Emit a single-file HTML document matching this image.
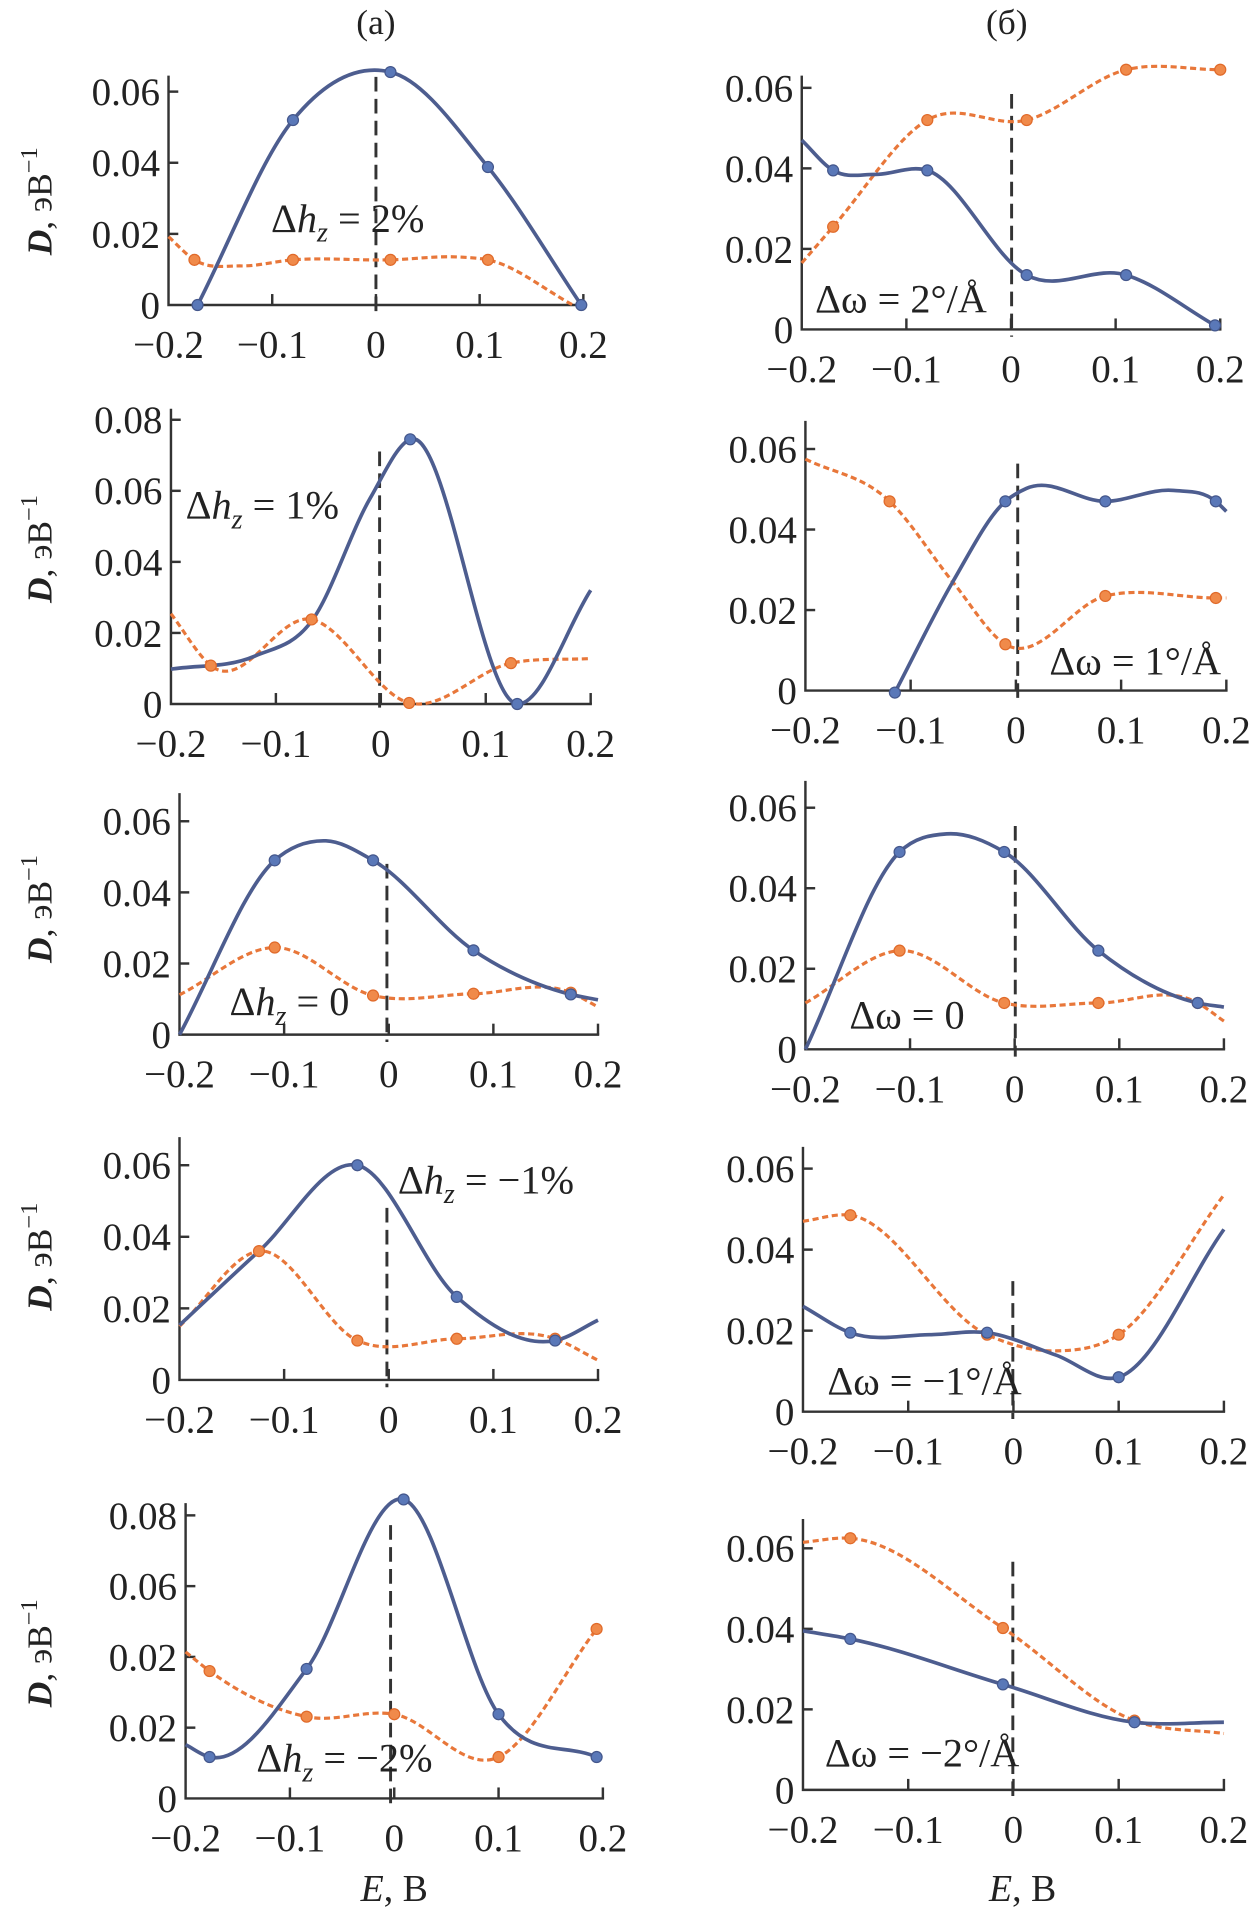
<!DOCTYPE html>
<html><head><meta charset="utf-8"><style>
html,body{margin:0;padding:0;background:#fff}
svg{display:block}
text{font-family:"Liberation Serif",serif;fill:#222}
</style></head><body>
<svg id="fig" width="1257" height="1918" viewBox="0 0 1030 1572" xmlns="http://www.w3.org/2000/svg">
<text x="308" y="28" font-size="29" text-anchor="middle">(a)</text>
<text x="825" y="28" font-size="29" text-anchor="middle">(б)</text>
</svg>
<script>
// ---- data ----
const yTicks6 = [0, 0.02, 0.04, 0.06];
const yTicks8 = [0, 0.02, 0.04, 0.06, 0.08];
const yLabels6 = ["0", "0.02", "0.04", "0.06"];
const yLabels8 = ["0", "0.02", "0.04", "0.06", "0.08"];
const yLabelsA5 = ["0", "0.02", "0.02", "0.06", "0.08"];
const xTicks = [-0.2, -0.1, 0, 0.1, 0.2];
const xLabels = ["\u22120.2", "\u22120.1", "0", "0.1", "0.2"];

const a1BlueX = [-0.172, -0.08, 0.014, 0.108, 0.198];
const a1BlueY = [0, 0.052, 0.0655, 0.0388, 0];
const a1BlueM = [-0.172, -0.08, 0.014, 0.108, 0.198];
const a1BlueMY = [0, 0.052, 0.0655, 0.0388, 0];
const a1OrX = [-0.2, -0.175, -0.13, -0.08, 0.014, 0.08, 0.108, 0.19];
const a1OrY = [0.0192, 0.0127, 0.011, 0.0127, 0.0127, 0.0135, 0.0127, 0];
const a1OrM = [-0.175, -0.08, 0.014, 0.108];
const a1OrMY = [0.0127, 0.0127, 0.0127, 0.0127];

const a2BlueX = [-0.2, -0.12, -0.066, -0.01, 0.028, 0.13, 0.2];
const a2BlueY = [0.0098, 0.0135, 0.0233, 0.058, 0.0745, 0, 0.032];
const a2BlueM = [0.028, 0.13];
const a2BlueMY = [0.0745, 0];
const a2OrX = [-0.2, -0.162, -0.066, 0.027, 0.124, 0.2];
const a2OrY = [0.0254, 0.0108, 0.0238, 0.0003, 0.0115, 0.0128];
const a2OrM = [-0.162, -0.066, 0.027, 0.124];
const a2OrMY = [0.0108, 0.0238, 0.0003, 0.0115];

const a3BlueX = [-0.2, -0.109, -0.06, -0.015, 0.081, 0.174, 0.2];
const a3BlueY = [0, 0.049, 0.0545, 0.049, 0.0237, 0.0113, 0.0098];
const a3BlueM = [-0.109, -0.015, 0.081, 0.174];
const a3BlueMY = [0.049, 0.049, 0.0237, 0.0113];
const a3OrX = [-0.2, -0.109, -0.015, 0.081, 0.174, 0.2];
const a3OrY = [0.0112, 0.0245, 0.011, 0.0115, 0.0118, 0.0078];
const a3OrM = [-0.109, -0.015, 0.081, 0.174];
const a3OrMY = [0.0245, 0.011, 0.0115, 0.0118];

const a4BlueX = [-0.2, -0.124, -0.03, 0.065, 0.159, 0.2];
const a4BlueY = [0.0153, 0.036, 0.06, 0.0232, 0.011, 0.0167];
const a4BlueM = [-0.03, 0.065, 0.159];
const a4BlueMY = [0.06, 0.0232, 0.011];
const a4OrX = [-0.2, -0.124, -0.03, 0.065, 0.159, 0.2];
const a4OrY = [0.015, 0.036, 0.011, 0.0115, 0.0115, 0.0055];
const a4OrM = [-0.124, -0.03, 0.065, 0.159];
const a4OrMY = [0.036, 0.011, 0.0115, 0.0115];

const a5BlueX = [-0.2, -0.177, -0.084, 0.009, 0.1, 0.194];
const a5BlueY = [0.0152, 0.0117, 0.0366, 0.0845, 0.0238, 0.0117];
const a5BlueM = [-0.177, -0.084, 0.009, 0.1, 0.194];
const a5BlueMY = [0.0117, 0.0366, 0.0845, 0.0238, 0.0117];
const a5OrX = [-0.2, -0.177, -0.084, 0.0, 0.1, 0.194];
const a5OrY = [0.0414, 0.036, 0.0231, 0.0238, 0.0117, 0.0479];
const a5OrM = [-0.177, -0.084, 0.0, 0.1, 0.194];
const a5OrMY = [0.036, 0.0231, 0.0238, 0.0117, 0.0479];

const b1BlueX = [-0.2, -0.17, -0.13, -0.08, 0.015, 0.11, 0.195];
const b1BlueY = [0.047, 0.0395, 0.0385, 0.0395, 0.0135, 0.0135, 0.001];
const b1BlueM = [-0.17, -0.08, 0.015, 0.11, 0.195];
const b1BlueMY = [0.0395, 0.0395, 0.0135, 0.0135, 0.001];
const b1OrX = [-0.2, -0.17, -0.08, 0.015, 0.11, 0.2];
const b1OrY = [0.0165, 0.0255, 0.052, 0.052, 0.0645, 0.0645];
const b1OrM = [-0.17, -0.08, 0.015, 0.11, 0.2];
const b1OrMY = [0.0255, 0.052, 0.052, 0.0645, 0.0645];

const b2BlueX = [-0.115, -0.06, -0.01, 0.01, 0.085, 0.15, 0.19, 0.2];
const b2BlueY = [-0.0005, 0.027, 0.047, 0.0502, 0.047, 0.0497, 0.047, 0.0445];
const b2BlueM = [-0.115, -0.01, 0.085, 0.19];
const b2BlueMY = [-0.0005, 0.047, 0.047, 0.047];
const b2OrX = [-0.2, -0.12, -0.06, -0.01, 0.085, 0.19, 0.2];
const b2OrY = [0.0575, 0.047, 0.027, 0.0115, 0.0235, 0.023, 0.023];
const b2OrM = [-0.12, -0.01, 0.085, 0.19];
const b2OrMY = [0.047, 0.0115, 0.0235, 0.023];

const b3BlueX = [-0.2, -0.11, -0.065, -0.01, 0.08, 0.175, 0.2];
const b3BlueY = [0, 0.049, 0.0535, 0.049, 0.0245, 0.0115, 0.0105];
const b3BlueM = [-0.11, -0.01, 0.08, 0.175];
const b3BlueMY = [0.049, 0.049, 0.0245, 0.0115];
const b3OrX = [-0.2, -0.11, -0.01, 0.08, 0.175, 0.2];
const b3OrY = [0.0115, 0.0245, 0.0115, 0.0115, 0.0115, 0.007];
const b3OrM = [-0.11, -0.01, 0.08, 0.175];
const b3OrMY = [0.0245, 0.0115, 0.0115, 0.0115];

const b4BlueX = [-0.2, -0.155, -0.08, -0.025, 0.04, 0.1, 0.2];
const b4BlueY = [0.026, 0.0195, 0.019, 0.0195, 0.014, 0.0085, 0.045];
const b4BlueM = [-0.155, -0.025, 0.1];
const b4BlueMY = [0.0195, 0.0195, 0.0085];
const b4OrX = [-0.2, -0.155, -0.025, 0.04, 0.1, 0.2];
const b4OrY = [0.047, 0.0485, 0.019, 0.015, 0.019, 0.0535];
const b4OrM = [-0.155, -0.025, 0.1];
const b4OrMY = [0.0485, 0.019, 0.019];

const b5BlueX = [-0.2, -0.155, -0.01, 0.115, 0.2];
const b5BlueY = [0.0395, 0.0375, 0.0262, 0.0168, 0.0168];
const b5BlueM = [-0.155, -0.01, 0.115];
const b5BlueMY = [0.0375, 0.0262, 0.0168];
const b5OrX = [-0.2, -0.155, -0.01, 0.115, 0.2];
const b5OrY = [0.0615, 0.0625, 0.0402, 0.0172, 0.014];
const b5OrM = [-0.155, -0.01, 0.115];
const b5OrMY = [0.0625, 0.0402, 0.0172];

// ---- drawing ----
const NS = "http://www.w3.org/2000/svg";
const svg = document.getElementById("fig");
function mk(tag, attrs, parent) {
  const e = document.createElementNS(NS, tag);
  for (const k in attrs) e.setAttribute(k, attrs[k]);
  (parent || svg).appendChild(e);
  return e;
}
// function-style cubic Hermite spline (slopes by finite differences in x)
function spline(pts) {
  const n = pts.length;
  const m = pts.map((p, i) => {
    if (i === 0) return (pts[1][1] - p[1]) / (pts[1][0] - p[0]);
    if (i === n - 1) return (p[1] - pts[i - 1][1]) / (p[0] - pts[i - 1][0]);
    const s0 = (p[1] - pts[i - 1][1]) / (p[0] - pts[i - 1][0]);
    const s1 = (pts[i + 1][1] - p[1]) / (pts[i + 1][0] - p[0]);
    const h0 = p[0] - pts[i - 1][0], h1 = pts[i + 1][0] - p[0];
    return (s0 * h1 + s1 * h0) / (h0 + h1);
  });
  let d = "M" + pts[0][0] + "," + pts[0][1];
  for (let i = 0; i < n - 1; i++) {
    const p1 = pts[i], p2 = pts[i + 1], h = (p2[0] - p1[0]) / 3;
    d += " C" + (p1[0] + h) + "," + (p1[1] + m[i] * h) + " " + (p2[0] - h) + "," + (p2[1] - m[i + 1] * h) + " " + p2[0] + "," + p2[1];
  }
  return d;
}
function panel(id, g, yt, yl, bx, by, bmx, bmy, ox, oy, omx, omy, label) {
  const grp = mk("g", {});
  
  
  const X = v => g.xL + (v + 0.2) / 0.4 * (g.xR - g.xL);
  const Y = v => g.y0 - v * g.k;
  const z = mk("line", {x1: g.zx, x2: g.zx, y1: g.zTop, y2: g.y0 + 6, stroke: "#333", "stroke-width": 2.4, "stroke-dasharray": "12,6"}, grp);
  
  
  const ax = mk("path", {d: "M" + g.xL + "," + g.top + " V" + g.y0 + " H" + (g.xR + 1), fill: "none", stroke: "#333", "stroke-width": 2}, grp);
  
  
  yt.forEach((v, i) => {
    if (v > 0) mk("line", {x1: g.xL, x2: g.xL + 8, y1: Y(v), y2: Y(v), stroke: "#333", "stroke-width": 2}, grp);
    const t = mk("text", {x: g.xL - 7, y: Y(v) + 11, "font-size": 32, "text-anchor": "end", transform: "", "textLength": "", }, grp);
    t.removeAttribute("transform"); t.removeAttribute("textLength");
    t.textContent = yl[i];
    
    
  });
  xTicks.forEach((v, i) => {
    if (v > -0.2) mk("line", {x1: X(v), x2: X(v), y1: g.y0, y2: g.y0 - 9, stroke: "#333", "stroke-width": 2}, grp);
    const t = mk("text", {x: X(v), y: g.y0 + 43, "font-size": 32, "text-anchor": "middle"}, grp);
    t.textContent = xLabels[i];
    
    
  });
  const op = mk("path", {d: spline(ox.map((v, i) => [X(v), Y(oy[i])])), fill: "none", stroke: "#e8773a", "stroke-width": 2.6, "stroke-dasharray": "5,3"}, grp);
  
  
  const bp = mk("path", {d: spline(bx.map((v, i) => [X(v), Y(by[i])])), fill: "none", stroke: "#4d5d8f", "stroke-width": 3}, grp);
  
  
  omx.forEach((v, i) => {
    const c = mk("circle", {cx: X(v), cy: Y(omy[i]), r: 4.5, fill: "#f08a4a", stroke: "#e06a2a", "stroke-width": 1}, grp);
    
    
  });
  bmx.forEach((v, i) => {
    const c = mk("circle", {cx: X(v), cy: Y(bmy[i]), r: 4.5, fill: "#5a78b8", stroke: "#44578c", "stroke-width": 1}, grp);
    
    
  });
  const lt = mk("text", {x: label.x, y: label.y, "font-size": 33}, grp);
  lt.innerHTML = label.html;
  
  
  if (g.ylab) {
    const yl2 = mk("text", {x: 0, y: 0, "font-size": 29, "text-anchor": "middle", transform: "translate(42," + g.ylab + ") rotate(-90)"}, grp);
    yl2.innerHTML = '<tspan font-weight="bold" font-style="italic">D</tspan>, эВ<tspan dy="-12" font-size="20">\u22121</tspan>';
    
    
  }
}
const hz = s => 'Δ<tspan font-style="italic">h</tspan><tspan font-style="italic" font-size="23" dy="8">z</tspan><tspan dy="-8"> = ' + s + '</tspan>';
const dw = s => 'Δω = ' + s;

panel("a1", {xL:138,xR:478,y0:250,k:2915,top:62,zx:308,zTop:63,ylab:165}, yTicks6, yLabels6, a1BlueX,a1BlueY,a1BlueM,a1BlueMY, a1OrX,a1OrY,a1OrM,a1OrMY, {x:222,y:190,html:hz("2%")});
panel("a2", {xL:140,xR:484,y0:577,k:2912,top:335,zx:311,zTop:370,ylab:450}, yTicks8, yLabels8, a2BlueX,a2BlueY,a2BlueM,a2BlueMY, a2OrX,a2OrY,a2OrM,a2OrMY, {x:152,y:425,html:hz("1%")});
panel("a3", {xL:147,xR:490,y0:848,k:2915,top:650,zx:317,zTop:708,ylab:745}, yTicks6, yLabels6, a3BlueX,a3BlueY,a3BlueM,a3BlueMY, a3OrX,a3OrY,a3OrM,a3OrMY, {x:188,y:832,html:hz("0")});
panel("a4", {xL:147,xR:490,y0:1131,k:2933,top:932,zx:317,zTop:990,ylab:1030}, yTicks6, yLabels6, a4BlueX,a4BlueY,a4BlueM,a4BlueMY, a4OrX,a4OrY,a4OrM,a4OrMY, {x:326,y:978,html:hz("\u22121%")});
panel("a5", {xL:152,xR:494,y0:1474,k:2900,top:1232,zx:320,zTop:1250,ylab:1355}, yTicks8, yLabelsA5, a5BlueX,a5BlueY,a5BlueM,a5BlueMY, a5OrX,a5OrY,a5OrM,a5OrMY, {x:210,y:1452,html:hz("\u22122%")});
panel("b1", {xL:657,xR:1000,y0:270,k:3300,top:62,zx:829,zTop:77}, yTicks6, yLabels6, b1BlueX,b1BlueY,b1BlueM,b1BlueMY, b1OrX,b1OrY,b1OrM,b1OrMY, {x:668,y:256,html:dw("2°/Å")});
panel("b2", {xL:660,xR:1005,y0:566,k:3300,top:345,zx:834,zTop:380}, yTicks6, yLabels6, b2BlueX,b2BlueY,b2BlueM,b2BlueMY, b2OrX,b2OrY,b2OrM,b2OrMY, {x:860,y:553,html:dw("1°/Å")});
panel("b3", {xL:660,xR:1003,y0:860,k:3300,top:640,zx:832,zTop:677}, yTicks6, yLabels6, b3BlueX,b3BlueY,b3BlueM,b3BlueMY, b3OrX,b3OrY,b3OrM,b3OrMY, {x:696,y:843,html:dw("0")});
panel("b4", {xL:658,xR:1003,y0:1157,k:3320,top:940,zx:830,zTop:1050}, yTicks6, yLabels6, b4BlueX,b4BlueY,b4BlueM,b4BlueMY, b4OrX,b4OrY,b4OrM,b4OrMY, {x:678,y:1143,html:dw("\u22121°/Å")});
panel("b5", {xL:658,xR:1003,y0:1467,k:3300,top:1245,zx:830,zTop:1280}, yTicks6, yLabels6, b5BlueX,b5BlueY,b5BlueM,b5BlueMY, b5OrX,b5OrY,b5OrM,b5OrMY, {x:676,y:1448,html:dw("\u22122°/Å")});

[[323,1558],[838,1558]].forEach(p => {
  const t = mk("text", {x: p[0], y: p[1], "font-size": 31, "text-anchor": "middle"});
  t.innerHTML = '<tspan font-style="italic">E</tspan>, В';
  
  
});
</script>
</body></html>
